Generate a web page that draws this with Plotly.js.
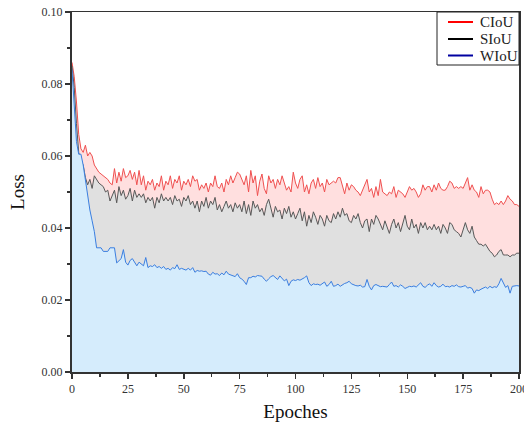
<!DOCTYPE html>
<html>
<head>
<meta charset="utf-8">
<script src="https://cdn.plot.ly/plotly-3.0.1.min.js"></script>
<style>html,body{margin:0;padding:0;background:#fff;}#chart{width:524px;height:426px;}</style>
</head>
<body>
<div id="chart"></div>
<script>
const seriesNames = ["CIoU", "SIoU", "WIoU"];
const xTitle = "Epoches";
const yTitle = "Loss";

const ciou = [
0.086,0.082,0.075,0.066,0.062,0.061,0.063,0.060,0.061,0.060,
0.0575,0.0565,0.0555,0.055,0.0545,0.054,0.0535,0.0525,0.052,0.0565,
0.0525,0.0555,0.053,0.0565,0.054,0.0545,0.056,0.0535,0.0555,0.052,
0.056,0.052,0.0545,0.0505,0.053,0.052,0.0535,0.0505,0.0525,0.0515,
0.0545,0.0505,0.053,0.052,0.0545,0.051,0.0535,0.0525,0.0545,0.0505,
0.053,0.052,0.0535,0.0515,0.0545,0.053,0.0535,0.0505,0.052,0.051,
0.0525,0.050,0.0525,0.0515,0.0545,0.0515,0.051,0.0525,0.050,0.0535,
0.052,0.0545,0.0525,0.054,0.0555,0.055,0.0535,0.052,0.0545,0.050,
0.056,0.0525,0.0545,0.049,0.053,0.055,0.051,0.0495,0.0545,0.0525,
0.0535,0.051,0.0535,0.052,0.0545,0.0525,0.0505,0.0515,0.050,0.0555,
0.0525,0.051,0.0535,0.0545,0.050,0.052,0.0495,0.0525,0.0535,0.051,
0.054,0.0515,0.0525,0.050,0.0535,0.052,0.0525,0.053,0.0525,0.054,
0.054,0.0515,0.0495,0.0525,0.0505,0.052,0.0515,0.0505,0.050,0.049,
0.0505,0.0525,0.0535,0.050,0.051,0.0485,0.0515,0.049,0.0535,0.050,
0.0495,0.049,0.050,0.0495,0.0515,0.0485,0.0505,0.050,0.0495,0.0485,
0.050,0.0515,0.0505,0.051,0.050,0.0485,0.0495,0.052,0.0505,0.0515,
0.0515,0.050,0.052,0.0505,0.0525,0.051,0.0505,0.0505,0.0515,0.053,
0.0525,0.051,0.0515,0.051,0.0515,0.051,0.0525,0.054,0.0505,0.052,
0.0505,0.050,0.0485,0.0515,0.0495,0.0505,0.0505,0.050,0.048,0.0465,
0.047,0.0465,0.0475,0.0465,0.0475,0.049,0.048,0.0475,0.0465,0.0465,
0.046
];

const siou = [
0.085,0.079,0.069,0.061,0.0585,0.0575,0.054,0.052,0.0535,0.051,
0.0545,0.0535,0.0525,0.052,0.0515,0.050,0.0505,0.0475,0.049,0.0505,
0.047,0.0515,0.049,0.0505,0.048,0.049,0.051,0.0475,0.0505,0.0485,
0.0495,0.0485,0.0495,0.047,0.0485,0.0475,0.0485,0.0455,0.0485,0.047,
0.0495,0.0475,0.0485,0.0475,0.0485,0.0465,0.049,0.0475,0.048,0.046,
0.0485,0.0475,0.049,0.0465,0.0475,0.0455,0.0475,0.0445,0.0475,0.046,
0.0485,0.0455,0.0475,0.0465,0.0485,0.045,0.0465,0.0445,0.046,0.0475,
0.0455,0.0465,0.0445,0.047,0.0455,0.0465,0.0445,0.0475,0.044,0.0465,
0.0435,0.0475,0.0455,0.0465,0.0445,0.0455,0.0435,0.0465,0.048,0.045,
0.043,0.046,0.0445,0.045,0.0425,0.0455,0.044,0.046,0.043,0.0445,
0.0425,0.044,0.0455,0.042,0.0445,0.0405,0.0435,0.0415,0.0445,0.043,
0.041,0.0435,0.0425,0.0405,0.0435,0.042,0.0415,0.044,0.0425,0.0445,
0.043,0.0455,0.0435,0.044,0.042,0.0415,0.0435,0.0425,0.044,0.0415,
0.040,0.042,0.0425,0.039,0.0425,0.041,0.0435,0.0425,0.041,0.0395,
0.042,0.0405,0.0385,0.041,0.0425,0.040,0.0415,0.039,0.041,0.0435,
0.0405,0.0395,0.0425,0.040,0.041,0.0385,0.0415,0.040,0.0415,0.0395,
0.0405,0.0395,0.041,0.0395,0.0405,0.0385,0.041,0.040,0.0385,0.0415,
0.041,0.0395,0.039,0.0385,0.0375,0.0395,0.0415,0.0395,0.0385,0.0405,
0.0375,0.0365,0.0355,0.0355,0.035,0.0355,0.0345,0.0335,0.033,0.032,
0.0325,0.0335,0.034,0.0325,0.0325,0.0325,0.032,0.0325,0.0325,0.033,
0.033
];

const wiou = [
0.084,0.072,0.064,0.0605,0.0605,0.0575,0.053,0.049,0.045,0.042,
0.039,0.0345,0.0345,0.0345,0.0335,0.0335,0.0335,0.0345,0.0345,0.0345,
0.0303,0.031,0.0315,0.034,0.0305,0.0297,0.031,0.0315,0.0305,0.0295,
0.0305,0.030,0.0295,0.0318,0.029,0.0295,0.0293,0.0298,0.029,0.0293,
0.0288,0.0293,0.0285,0.0288,0.0283,0.029,0.0287,0.0298,0.0285,0.0288,
0.0285,0.0283,0.0288,0.0283,0.029,0.0277,0.0282,0.028,0.0281,0.0279,
0.028,0.0272,0.0269,0.0277,0.0272,0.0273,0.0268,0.0275,0.027,0.028,
0.0272,0.027,0.0268,0.0265,0.0273,0.0262,0.0258,0.0252,0.0243,0.0262,
0.0262,0.0266,0.0264,0.0268,0.0267,0.0266,0.0258,0.0252,0.0259,0.0265,
0.0268,0.0262,0.0257,0.0267,0.0259,0.0253,0.0258,0.024,0.0252,0.0256,
0.0254,0.0257,0.0255,0.0258,0.0262,0.0267,0.0248,0.024,0.0245,0.0243,
0.0244,0.0241,0.0245,0.025,0.0238,0.0243,0.0252,0.0238,0.024,0.0244,
0.0238,0.0243,0.0246,0.0248,0.0252,0.0245,0.0242,0.024,0.0239,0.0241,
0.0236,0.0237,0.0257,0.0238,0.0228,0.024,0.0243,0.0239,0.0237,0.0238,
0.0237,0.0236,0.0243,0.025,0.0238,0.024,0.0236,0.0242,0.0238,0.0232,
0.0235,0.0238,0.0237,0.0239,0.0236,0.0243,0.0248,0.0238,0.0235,0.0241,
0.0245,0.0238,0.0248,0.024,0.0236,0.0238,0.0244,0.0237,0.0238,0.0236,
0.024,0.0238,0.0242,0.0237,0.0236,0.0238,0.024,0.0233,0.0235,0.0232,
0.0219,0.0228,0.0226,0.023,0.0233,0.0236,0.0232,0.0238,0.0234,0.0237,
0.0235,0.0245,0.026,0.0245,0.0235,0.024,0.0219,0.0238,0.024,0.024,
0.0239
];

const epochs = ciou.map((_, i) => i);
const allSeries = [ciou, siou, wiou];
const lineColors = ["#f05050", "#585858", "#3a7ee0"];
const fillColors = ["#ffdfdf", "#e0e0e0", "#d5ecfc"];
const legendColors = ["#ff0000", "#000000", "#0000a0"];

const traces = allSeries.map((ys, k) => ({
  x: epochs, y: ys, type: "scatter", mode: "lines",
  fill: "tozeroy", fillcolor: fillColors[k],
  line: {color: lineColors[k], width: 1},
  name: seriesNames[k], showlegend: false, hoverinfo: "skip"
}));

// plot-area geometry in pixels (used only to place the hand-drawn legend box)
const W = 524, H = 426, ML = 72, MR = 5, MT = 12, MB = 54;
const pw = W - ML - MR, ph = H - MT - MB;
const px = v => (v - ML) / pw;
const py = v => (H - MB - v) / ph;

const shapes = [];
const annotations = [];
shapes.push({type: "rect", xref: "paper", yref: "paper",
  x0: px(437), x1: px(519), y0: py(65), y1: py(12),
  line: {color: "#222", width: 1}, fillcolor: "#fff", layer: "above"});
const rowY = [22, 39, 55.5];
seriesNames.forEach((n, k) => {
  shapes.push({type: "line", xref: "paper", yref: "paper",
    x0: px(448), x1: px(473), y0: py(rowY[k]), y1: py(rowY[k]),
    line: {color: legendColors[k], width: 2}, layer: "above"});
  annotations.push({xref: "paper", yref: "paper", x: px(478), y: py(rowY[k]),
    xanchor: "left", yanchor: "middle", showarrow: false, text: n,
    font: {family: "Liberation Serif, Times New Roman, serif", size: 15, color: "#222"}});
});

const font = "Liberation Serif, Times New Roman, serif";
const layout = {
  width: W, height: H,
  margin: {l: ML, r: MR, t: MT, b: MB},
  paper_bgcolor: "#fff", plot_bgcolor: "#fff",
  font: {family: font, color: "#222", size: 12},
  showlegend: false,
  shapes: shapes,
  annotations: annotations,
  xaxis: {
    range: [0, 200], dtick: 25, tick0: 0,
    ticks: "outside", ticklen: 5, tickwidth: 1.5, tickcolor: "#333",
    minor: {dtick: 12.5, ticks: "outside", ticklen: 3, tickwidth: 1.5, tickcolor: "#333"},
    showline: true, linecolor: "#333", linewidth: 1.5, mirror: true,
    showgrid: false, zeroline: false, ticklabeloverflow: "allow",
    tickfont: {family: font, size: 12, color: "#333"},
    title: {text: xTitle, font: {family: font, size: 19, color: "#111"}, standoff: 10}
  },
  yaxis: {
    range: [0, 0.1], dtick: 0.02, tick0: 0, tickformat: ".2f",
    ticks: "outside", ticklen: 5, tickwidth: 1.5, tickcolor: "#333",
    minor: {dtick: 0.01, ticks: "outside", ticklen: 3, tickwidth: 1.5, tickcolor: "#333"},
    showline: true, linecolor: "#333", linewidth: 2, mirror: true,
    showgrid: false, zeroline: false,
    tickfont: {family: font, size: 12, color: "#333"},
    title: {text: yTitle, font: {family: font, size: 19, color: "#111"}, standoff: 12}
  }
};

Plotly.newPlot("chart", traces, layout, {displayModeBar: false, staticPlot: true});
</script>
</body>
</html>
